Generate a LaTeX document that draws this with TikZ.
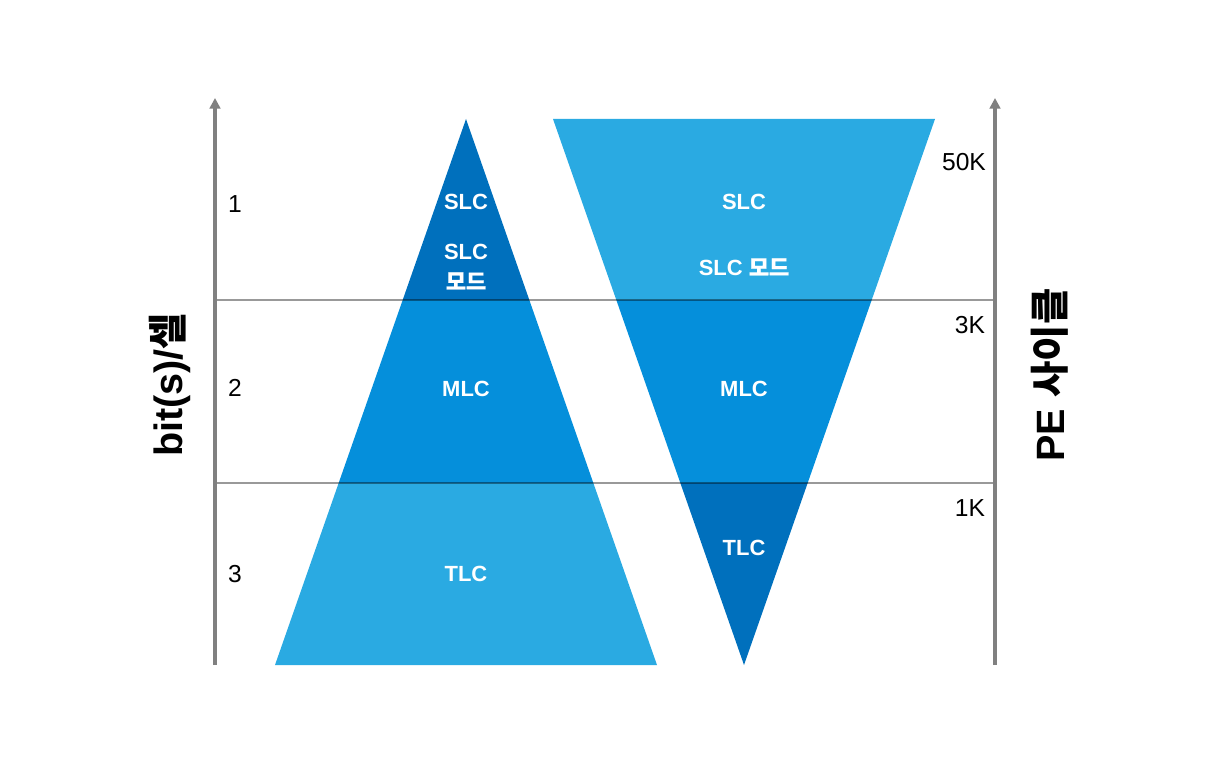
\documentclass[tikz,border=0pt]{standalone}
\usepackage{fontspec}
\setmainfont{Liberation Sans}
\newfontfamily\krfont{Noto Sans CJK KR}
\newfontfamily\krmid[FakeBold=0.7]{Noto Sans CJK KR}
\usetikzlibrary{arrows.meta}

\definecolor{celldark}{HTML}{0070BD}
\definecolor{cellmid}{HTML}{058FDB}
\definecolor{celllight}{HTML}{2AAAE2}
\definecolor{axisgray}{HTML}{808080}

\tikzset{
  axis/.style={line width=2pt, axisgray, -{Triangle[length=6pt,width=6pt]}},
  level/.style={line width=0.6pt, black, opacity=0.4},
  celltext/.style={text=white, font=\bfseries\fontsize{12.5}{14}\selectfont, align=center},
  ticktext/.style={font=\fontsize{14}{16}\selectfont},
  axistitle/.style={font=\bfseries\fontsize{22.5}{26}\selectfont, rotate=90}
}

\begin{document}
\begin{tikzpicture}[x=0.02cm, y=-0.02cm]
        % canvas
        \useasboundingbox (0,0) rectangle (1230,780);

        % axis ends
        \coordinate (lbot) at (215,665);
        \coordinate (ltop) at (215,98);
        \coordinate (rbot) at (995,665);
        \coordinate (rtop) at (995,98);
        \coordinate (l3k) at (215,300);
        \coordinate (r3k) at (995,300);
        \coordinate (l1k) at (215,483);
        \coordinate (r1k) at (995,483);

        % bits triangle
        \begin{scope}
            \clip (466,119) -- (657,665) -- (275,665) -- cycle;
            \fill[celldark] (200,100) rectangle (1000,300);
            \fill[cellmid] (200,300) rectangle (1000,483);
            \fill[celllight] (200,483) rectangle (1000,670);
        \end{scope}

        % cycles triangle
        \begin{scope}
            \clip (553,119) -- (935,119) -- (744,665) -- cycle;
            \fill[celllight] (200,100) rectangle (1000,300);
            \fill[cellmid] (200,300) rectangle (1000,483);
            \fill[celldark] (200,483) rectangle (1000,670);
        \end{scope}

        % levels
        \draw[level] (l3k) -- (r3k);
        \draw[level] (l1k) -- (r1k);

        % axes
        \draw[axis] (lbot) -- (ltop);
        \draw[axis] (rbot) -- (rtop);

        % left labels
        \node[ticktext] (n1) at (235,204) {1};
        \node[ticktext] (n2) at (235,388) {2};
        \node[ticktext] (n3) at (235,574) {3};
        \node[axistitle] (bits) at (170,385) {bit(s)/{\krfont 셀}};

        % right labels
        \node[ticktext] (k50) at (964,162) {50K};
        \node[ticktext] (k3) at (970,325) {3K};
        \node[ticktext] (k1) at (970,508) {1K};
        \node[axistitle] (pe) at (1050,375) {PE {\krfont 사이클}};

        % cells
        \node[celltext] (lslc) at (466,202) {SLC};
        \node[celltext] (lmode) at (466,267) {SLC\\[3pt]{\krmid 모드}};
        \node[celltext] (lmlc) at (466,389) {MLC};
        \node[celltext] (ltlc) at (466,574) {TLC};

        \node[celltext] (rslc) at (744,202) {SLC};
        \node[celltext] (rmode) at (744,267) {SLC {\krmid 모드}};
        \node[celltext] (rmlc) at (744,389) {MLC};
        \node[celltext] (rtlc) at (744,548) {TLC};
\end{tikzpicture}
\end{document}
